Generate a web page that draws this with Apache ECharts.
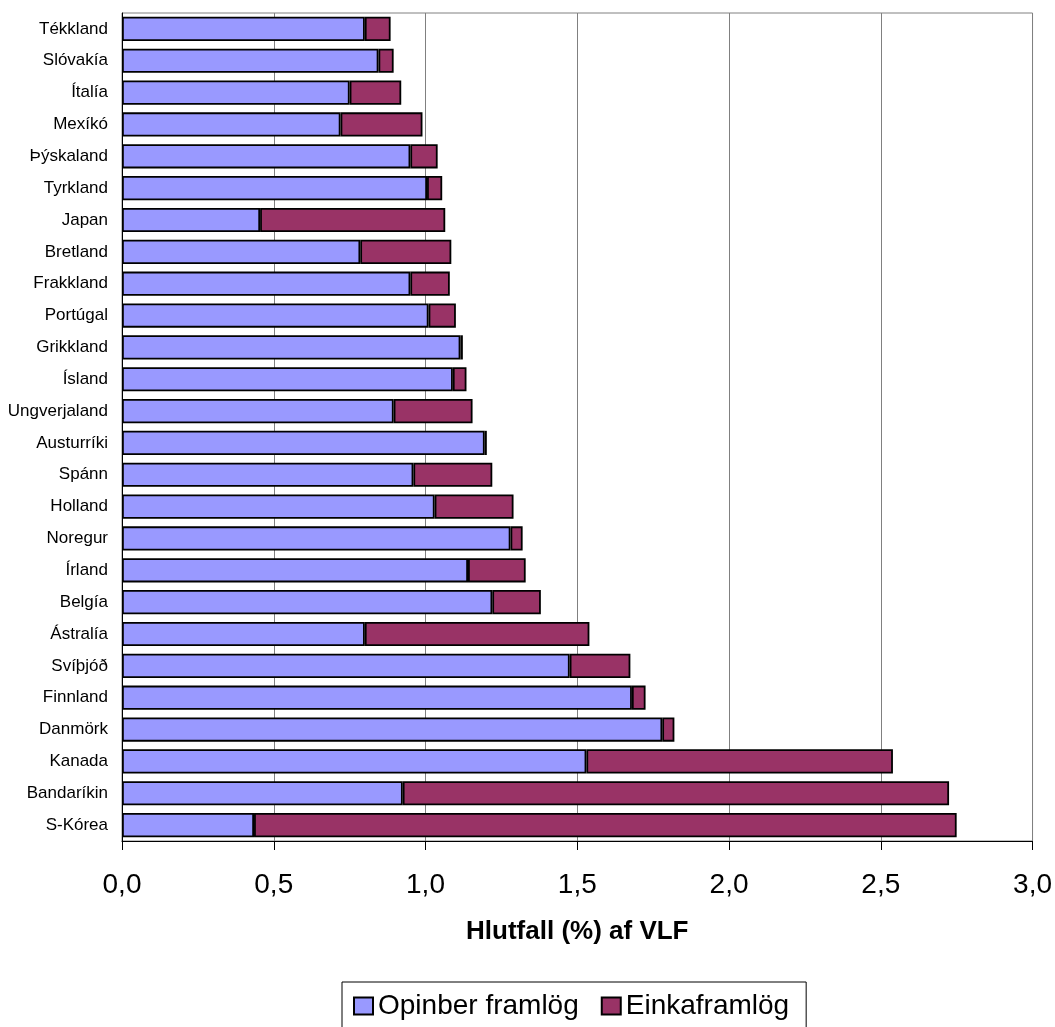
<!DOCTYPE html>
<html>
<head>
<meta charset="utf-8">
<script src="https://cdn.jsdelivr.net/npm/echarts@6/dist/echarts.min.js"></script>
<style>
html,body{margin:0;padding:0;background:#fff;}
#chart{width:1055px;height:1027px;}
</style>
</head>
<body>
<div id="chart"></div>
<script>
const categories = ['Tékkland','Slóvakía','Ítalía','Mexíkó','Þýskaland','Tyrkland','Japan','Bretland','Frakkland','Portúgal','Grikkland','Ísland','Ungverjaland','Austurríki','Spánn','Holland','Noregur','Írland','Belgía','Ástralía','Svíþjóð','Finnland','Danmörk','Kanada','Bandaríkin','S-Kórea'];
const publicValues = [0.80,0.845,0.75,0.72,0.95,1.005,0.455,0.785,0.95,1.01,1.115,1.09,0.895,1.195,0.96,1.03,1.28,1.14,1.22,0.80,1.475,1.68,1.78,1.53,0.925,0.435];
const privateValues = [0.085,0.05,0.17,0.27,0.09,0.05,0.61,0.30,0.13,0.09,0.008,0.045,0.26,0.007,0.26,0.26,0.04,0.19,0.16,0.74,0.20,0.045,0.04,1.01,1.80,2.315];
const seriesNames = ['Opinber framlög','Einkaframlög'];
const axisTitle = 'Hlutfall (%) af VLF';

const FONT = "'Liberation Sans', Arial, sans-serif";
const chart = echarts.init(document.getElementById('chart'), null, {renderer:'canvas'});
chart.setOption({
  animation:false,
  backgroundColor:'#fff',
  textStyle:{fontFamily:FONT},
  grid:{left:122,right:21,top:13,bottom:186,show:true,borderColor:'#808080',borderWidth:1,containLabel:false},
  xAxis:{
    type:'value',min:0,max:3,interval:0.5,
    axisLine:{show:true,lineStyle:{color:'#000',width:1}},
    axisTick:{show:true,length:9,lineStyle:{color:'#000'}},
    axisLabel:{fontSize:28,color:'#000',margin:30,fontFamily:FONT,formatter:v=>v.toFixed(1).replace('.',',')},
    splitLine:{show:true,lineStyle:{color:'#808080',width:1}},
    name:axisTitle,nameLocation:'middle',nameGap:78,
    nameTextStyle:{fontSize:26,fontWeight:'bold',color:'#000',fontFamily:FONT}
  },
  yAxis:{
    type:'category',inverse:true,data:categories,
    axisLine:{show:true,lineStyle:{color:'#000',width:1}},
    axisTick:{show:false},
    axisLabel:{fontSize:17,color:'#000',margin:14,fontFamily:FONT},
    splitLine:{show:false}
  },
  legend:{
    left:342,top:982,orient:'horizontal',
    padding:[10,17,10,11],itemGap:22,itemWidth:19,itemHeight:17,
    borderColor:'#000',borderWidth:1,
    textStyle:{fontSize:28,color:'#000',fontFamily:FONT},
    data:seriesNames,icon:'rect'
  },
  series:[
    {name:seriesNames[0],type:'bar',stack:'total',data:publicValues,barCategoryGap:'24%',
     itemStyle:{color:'#9999FF',borderColor:'#000',borderWidth:1.8}},
    {name:seriesNames[1],type:'bar',stack:'total',data:privateValues,barCategoryGap:'24%',
     itemStyle:{color:'#993366',borderColor:'#000',borderWidth:1.8}}
  ]
});
</script>
</body>
</html>
